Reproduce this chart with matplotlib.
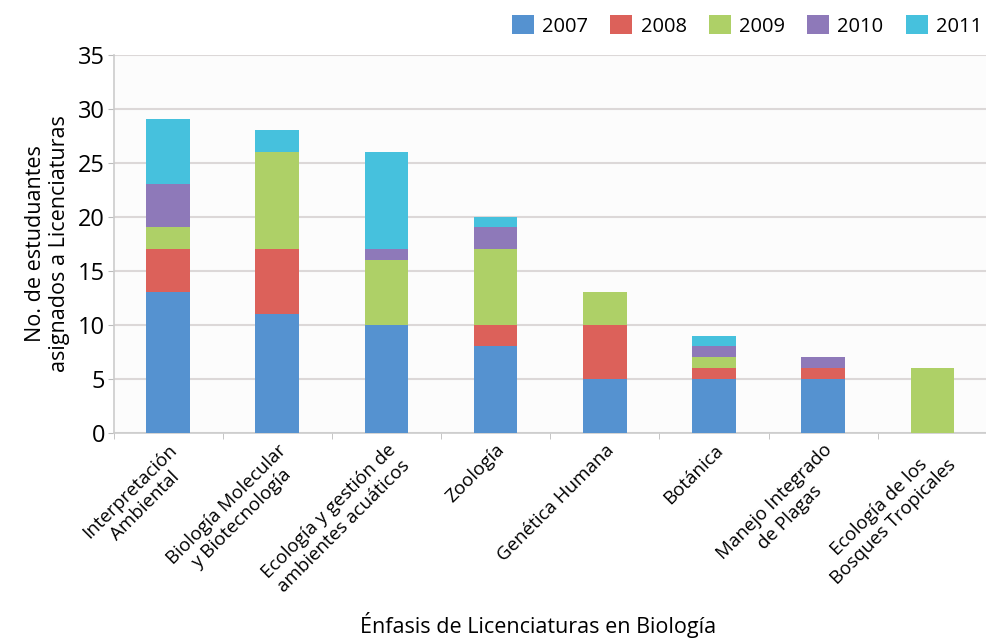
import matplotlib
matplotlib.use("Agg")
import matplotlib.pyplot as plt
import numpy as np

categories = ["Interpretación\nAmbiental", "Biología Molecular\ny Biotecnología",
              "Ecología y gestión de\nambientes acuáticos", "Zoología",
              "Genética Humana", "Botánica", "Manejo Integrado\nde Plagas",
              "Ecología de los\nBosques Tropicales"]
years = ["2007", "2008", "2009", "2010", "2011"]
v2007 = [13, 11, 10, 8, 5, 5, 5, 0]
v2008 = [4, 6, 0, 2, 5, 1, 1, 0]
v2009 = [2, 9, 6, 7, 3, 1, 0, 6]
v2010 = [4, 0, 1, 2, 0, 1, 1, 0]
v2011 = [6, 2, 9, 1, 0, 1, 0, 0]
series = [v2007, v2008, v2009, v2010, v2011]
colors = ["#5592d0", "#dc615a", "#aed067", "#8e79b9", "#46c1dd"]

plt.rcParams['font.family'] = ['Open Sans', 'DejaVu Sans']
fig = plt.figure(figsize=(9.87, 6.43), dpi=100)
ax = fig.add_axes([0.115, 0.327, 0.885, 0.588])
ax.set_facecolor("#fcfcfc")
x = np.arange(len(categories))
bottom = np.zeros(len(categories))
for vals, c, lab in zip(series, colors, years):
    ax.bar(x, vals, 0.4, bottom=bottom, color=c, label=lab, zorder=3)
    bottom += np.array(vals)

ax.set_xlim(-0.5, len(categories) - 0.5)
ax.set_ylim(0, 35)
ax.set_yticks(range(0, 36, 5))
ax.yaxis.grid(True, color="#dcd8d8", linewidth=1.5, zorder=0)
ax.tick_params(axis='y', labelsize=17, length=4, color="#bbbbbb", pad=2)
ax.set_xticks(x)
ax.set_xticklabels(categories, rotation=45, ha='right', rotation_mode='anchor',
                   fontsize=13.5, multialignment='center')
ax.tick_params(axis='x', length=0, pad=6)
ax.set_xticks(np.arange(-0.5, len(categories), 1), minor=True)
ax.tick_params(axis='x', which='minor', length=4, color="#bbbbbb")
for s in ["top", "right"]:
    ax.spines[s].set_visible(False)
for s in ["left", "bottom"]:
    ax.spines[s].set_color("#cccccc")
    ax.spines[s].set_linewidth(1.2)

ax.set_ylabel("No. de estuduantes\nasignados a Licenciaturas", fontsize=15.5, labelpad=6)
fig.text(0.545, 0.015, "Énfasis de Licenciaturas en Biología", ha='center', fontsize=15.5)

leg = ax.legend(loc='lower right', bbox_to_anchor=(1.015, 1.0), ncol=5, frameon=False,
                fontsize=14.5, handlelength=1.1, handleheight=1.1, columnspacing=1.1,
                handletextpad=0.4)
fig.savefig("out.png", dpi=100)
